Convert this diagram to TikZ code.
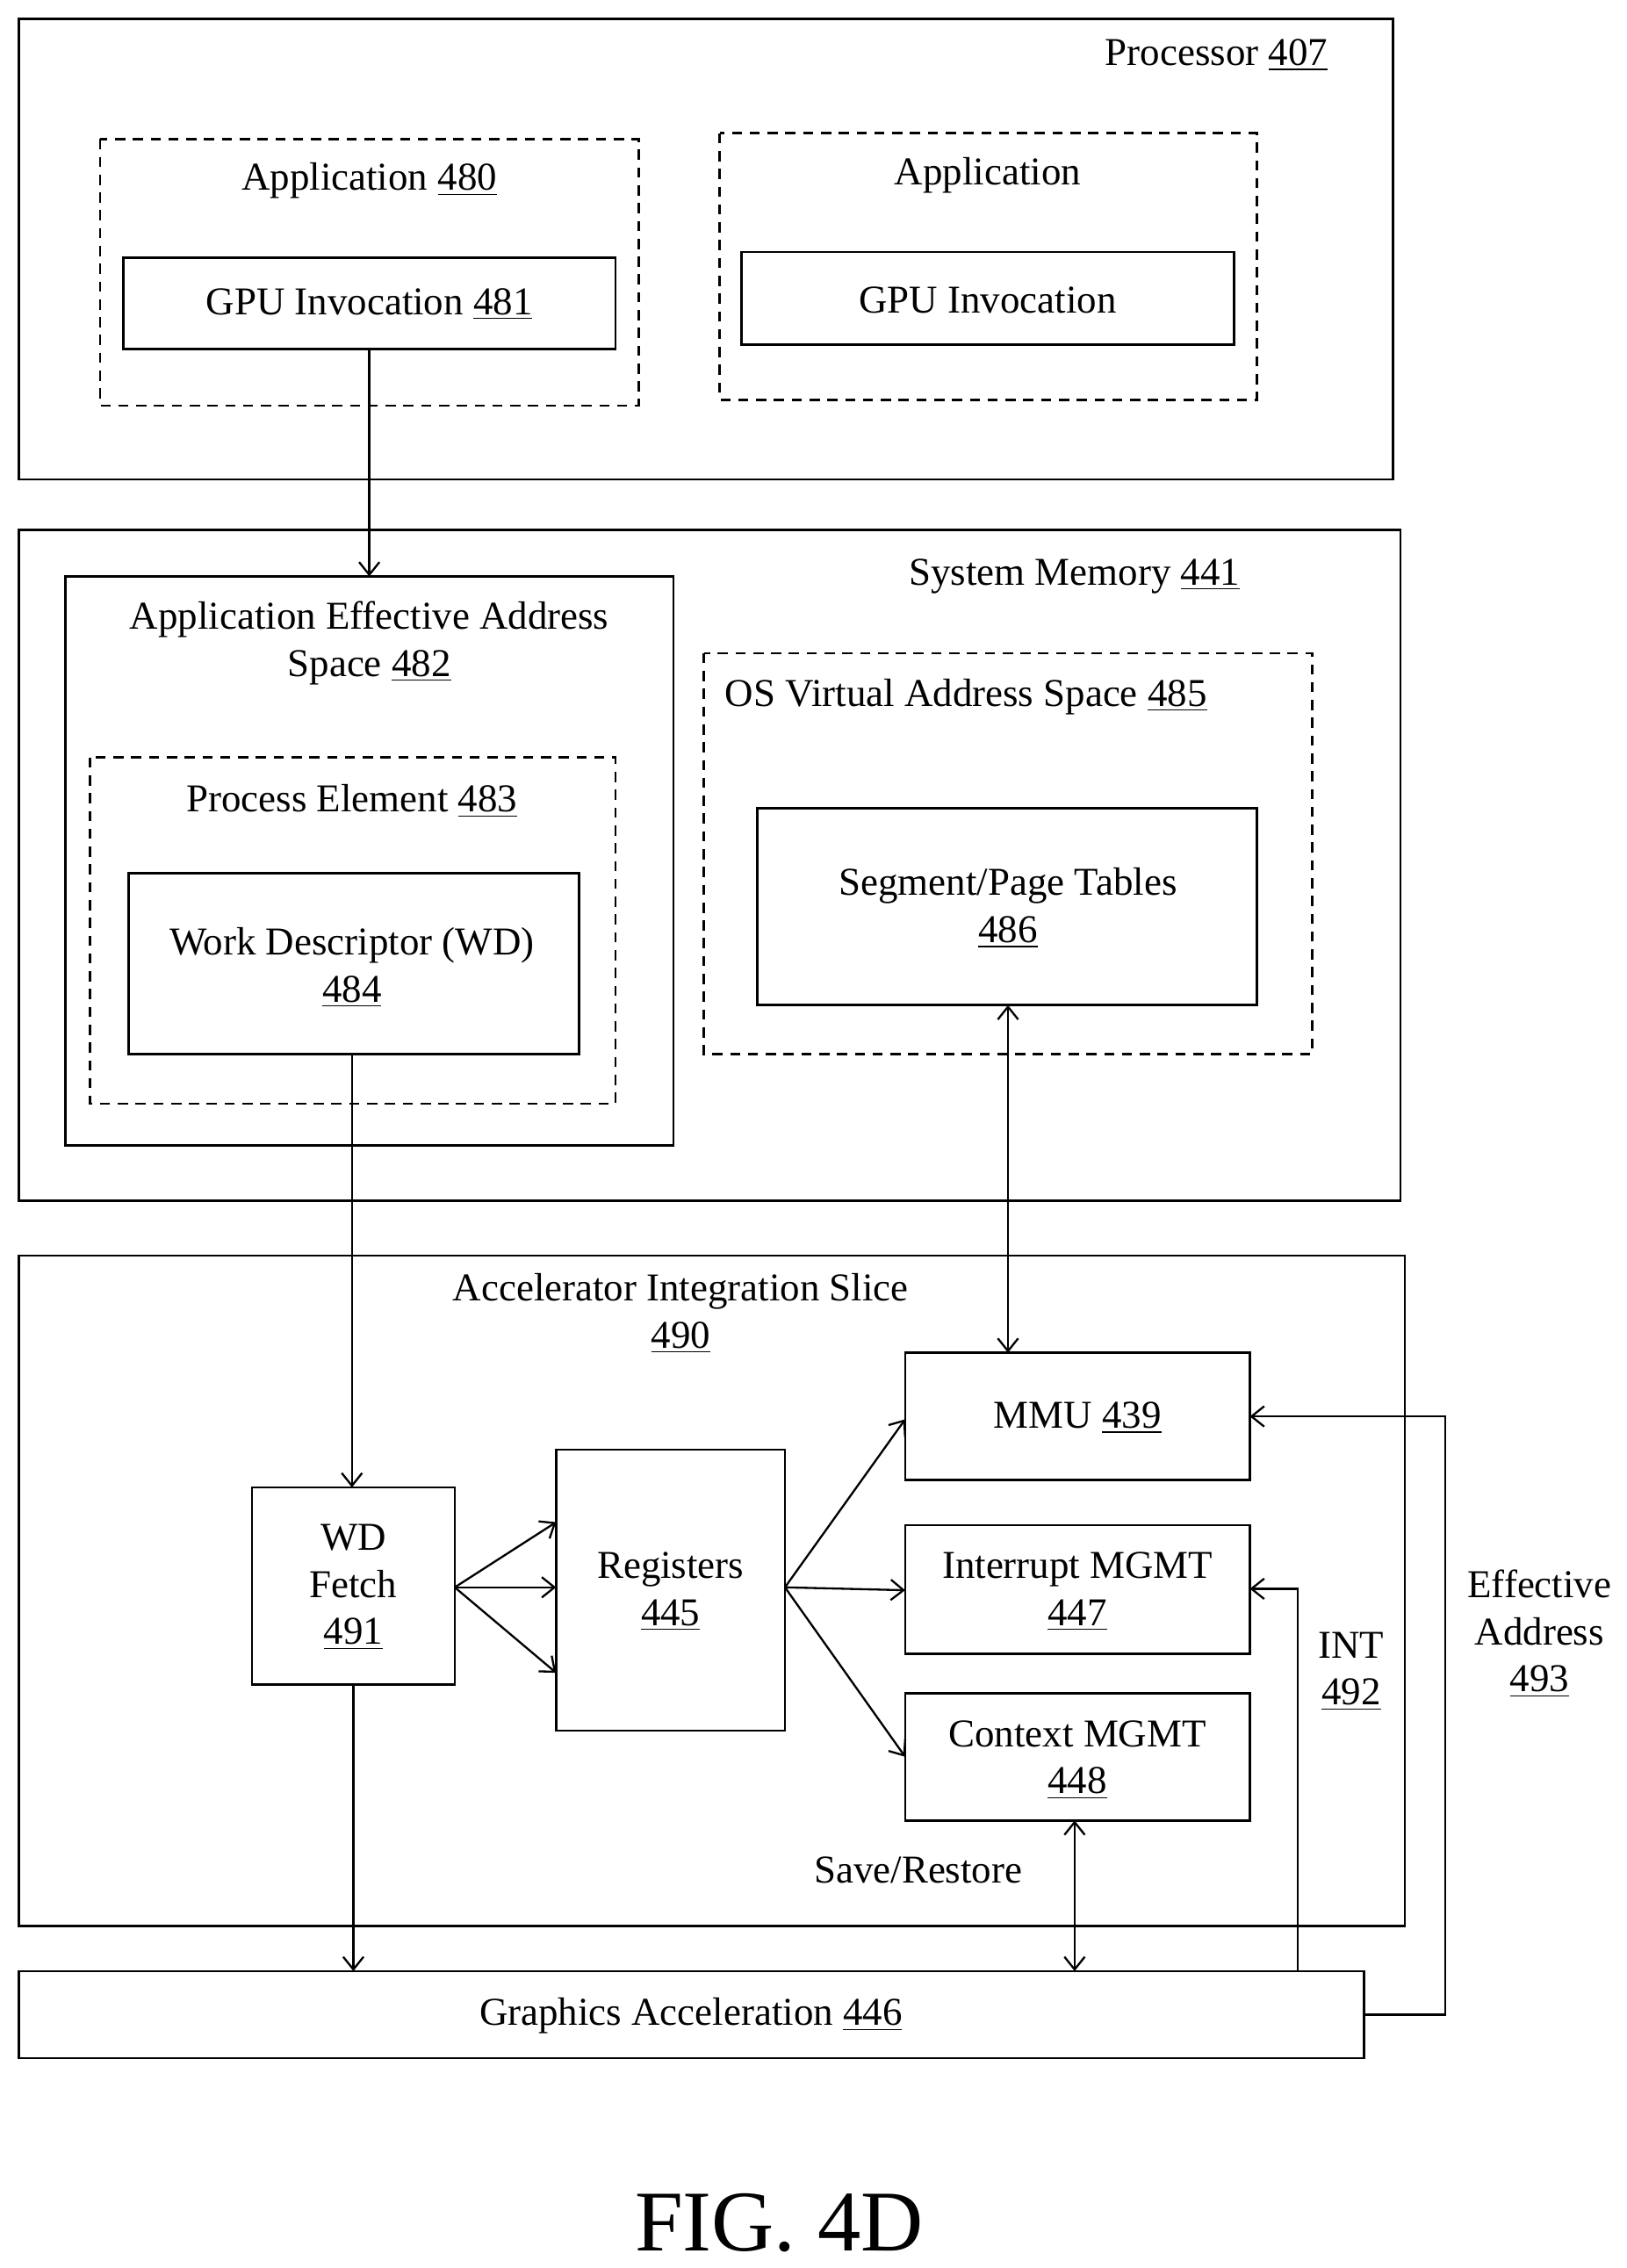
\documentclass[tikz,border=0pt]{standalone}
\usepackage{fontspec}
\setmainfont{Liberation Serif}
\usetikzlibrary{arrows.meta}
\newcommand{\un}[1]{\underline{#1}}
\begin{document}
\begin{tikzpicture}[x=0.02cm,y=-0.02cm,
  box/.style={draw,line width=0.9pt},
  dbox/.style={draw,line width=0.9pt,dash pattern=on 4pt off 3pt},
  lbl/.style={font=\fontsize{15.5}{18.5}\selectfont,align=center},
  arr/.style={line width=0.8pt,-{Straight Barb[length=5pt,width=8pt]}},
  darr/.style={line width=0.8pt,{Straight Barb[length=5pt,width=8pt]}-{Straight Barb[length=5pt,width=8pt]}}]
\useasboundingbox (0,0) rectangle (1123,1566);
% Processor
\draw[box] (13,13) rectangle (962,331);
\node[lbl] (proc) at (840,38) {Processor \un{407}};
\draw[dbox] (69,96) rectangle (441,280);
\node[lbl] (app1) at (255,125) {Application \un{480}};
\draw[box] (85,178) rectangle (425,241);
\node[lbl] (gpu1) at (255,210) {GPU Invocation \un{481}};
\coordinate (gpu1b) at (255,241);
\draw[dbox] (497,92) rectangle (868,276);
\node[lbl] (app2) at (682,121) {Application};
\draw[box] (512,174) rectangle (852,238);
\node[lbl] (gpu2) at (682,207) {GPU Invocation};
% System memory
\draw[box] (13,366) rectangle (967,829);
\node[lbl] (sysm) at (742,398) {System Memory \un{441}};
\draw[box] (45,398) rectangle (465,791);
\coordinate (aeast) at (255,398);
\node[lbl] (aeas) at (255,444) {Application Effective Address\\Space \un{482}};
\draw[dbox] (62,523) rectangle (425,762);
\node[lbl] (pe) at (243,553) {Process Element \un{483}};
\draw[box] (89,603) rectangle (400,728);
\node[lbl] (wd) at (243,668) {Work Descriptor (WD)\\\un{484}};
\coordinate (wdb) at (243,728);
\draw[dbox] (486,451) rectangle (906,728);
\node[lbl] (os) at (667,481) {OS Virtual Address Space \un{485}};
\draw[box] (523,558) rectangle (868,694);
\node[lbl] (seg) at (696,627) {Segment/Page Tables\\\un{486}};
\coordinate (segb) at (696,694);
% AIS
\draw[box] (13,867) rectangle (970,1330);
\node[lbl] (ais) at (470,907) {Accelerator Integration Slice\\\un{490}};
\draw[box] (625,934) rectangle (863,1022);
\node[lbl] (mmu) at (744,979) {MMU \un{439}};
\draw[box] (625,1053) rectangle (863,1142);
\node[lbl] (intm) at (744,1099) {Interrupt MGMT\\\un{447}};
\draw[box] (625,1169) rectangle (863,1257);
\node[lbl] (ctx) at (744,1215) {Context MGMT\\\un{448}};
\draw[box] (384,1001) rectangle (542,1195);
\node[lbl] (reg) at (463,1099) {Registers\\\un{445}};
\draw[box] (174,1027) rectangle (314,1163);
\node[lbl] (wdf) at (244,1096) {WD\\Fetch\\\un{491}};
\draw[box] (13,1361) rectangle (942,1421);
\node[lbl] (gfx) at (477,1392) {Graphics Acceleration \un{446}};
\node[lbl] (sr) at (634,1291) {Save/Restore};
\node[lbl] (int) at (933,1154) {INT\\\un{492}};
\node[lbl] (ea) at (1063,1128) {Effective\\Address\\\un{493}};
\node[font=\fontsize{34}{40}\selectfont] (fig) at (538,1535) {FIG. 4D};
% connectors
\draw[arr] (gpu1b) -- (aeast);
\draw[arr] (wdb) -- (243,1027);
\draw[darr] (segb) -- (696,934);
\draw[arr] (314,1096) -- (384,1051);
\draw[arr] (314,1096) -- (384,1096);
\draw[arr] (314,1096) -- (384,1155);
\draw[arr] (542,1096) -- (625,980);
\draw[arr] (542,1096) -- (625,1098);
\draw[arr] (542,1096) -- (625,1213);
\draw[arr] (244,1163) -- (244,1361);
\draw[darr] (742,1257) -- (742,1361);
\draw[arr] (896,1361) -- (896,1097) -- (863,1097);
\draw[arr] (942,1391) -- (998,1391) -- (998,978) -- (863,978);
\end{tikzpicture}
\end{document}
